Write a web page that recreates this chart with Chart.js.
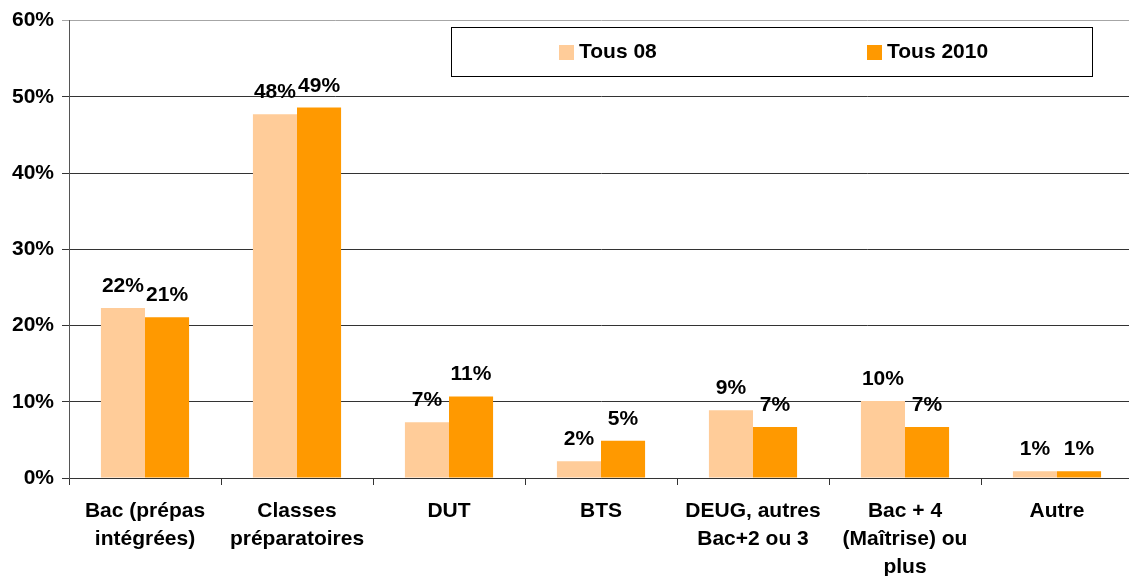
<!DOCTYPE html>
<html lang="fr">
<head>
<meta charset="utf-8">
<title>Tous 08 / Tous 2010</title>
<script src="https://cdn.jsdelivr.net/npm/chart.js@4.4.1/dist/chart.umd.min.js"></script>
<style>
    html, body { margin: 0; padding: 0; background: #fff; overflow: hidden; }
    #wrap { width: 1133px; height: 576px; }
</style>
</head>
<body>
<div id="wrap"><canvas id="chart"></canvas></div>
<script>
// Chart data
const categories = [
    ['Bac (prépas', 'intégrées)'],
    ['Classes', 'préparatoires'],
    'DUT',
    'BTS',
    ['DEUG, autres', 'Bac+2 ou 3'],
    ['Bac + 4', '(Maîtrise) ou', 'plus'],
    'Autre'
];
const seriesNames = ['Tous 08', 'Tous 2010'];
const tous08 = [22.3, 47.7, 7.3, 2.2, 8.9, 10.1, 0.9];
const tous2010 = [21.1, 48.6, 10.7, 4.9, 6.7, 6.7, 0.9];
const yTicks = [0, 10, 20, 30, 40, 50, 60];

const FONT_FAMILY = '"Liberation Sans", Arial, sans-serif';
const FONT = 'bold 21px ' + FONT_FAMILY;

/**
 * Percent labels above each bar
 */
const barLabels = {
    id: 'barLabels',
    afterDatasetsDraw(chart) {
        const ctx = chart.ctx;
        ctx.save();
        ctx.font = FONT;
        ctx.fillStyle = '#000';
        ctx.textAlign = 'center';
        ctx.textBaseline = 'alphabetic';
        chart.data.datasets.forEach((ds, i) => {
            chart.getDatasetMeta(i).data.forEach((bar, j) => {
                ctx.fillText(Math.round(ds.data[j]) + '%', bar.x, bar.y - 16);
            });
        });
        ctx.restore();
    }
};

/**
 * Boxed legend sitting inside the plot area
 */
const boxLegend = {
    id: 'boxLegend',
    afterDraw(chart) {
        const ctx = chart.ctx;
        const box = { x: 451.5, y: 27.5, w: 641, h: 49 };
        const itemX = [559, 867];
        ctx.save();
        ctx.fillStyle = '#fff';
        ctx.fillRect(box.x, box.y, box.w, box.h);
        ctx.strokeStyle = '#000';
        ctx.lineWidth = 1;
        ctx.strokeRect(box.x, box.y, box.w, box.h);
        ctx.font = FONT;
        ctx.textBaseline = 'middle';
        ctx.textAlign = 'left';
        chart.data.datasets.forEach((ds, i) => {
            ctx.fillStyle = ds.backgroundColor;
            ctx.fillRect(itemX[i], 45, 15, 15);
            ctx.fillStyle = '#000';
            ctx.fillText(ds.label, itemX[i] + 20, 52);
        });
        ctx.restore();
    }
};

const ctx = document.getElementById('chart').getContext('2d');
new Chart(ctx, {
    type: 'bar',
    data: {
        labels: categories,
        datasets: [
            {
                label: seriesNames[0],
                data: tous08,
                backgroundColor: '#FFCC99',
                categoryPercentage: 0.58,
                barPercentage: 1.0
            },
            {
                label: seriesNames[1],
                data: tous2010,
                backgroundColor: '#FF9900',
                categoryPercentage: 0.58,
                barPercentage: 1.0
            }
        ]
    },
    options: {
        responsive: true,
        maintainAspectRatio: false,
        animation: false,
        layout: {
            padding: { top: 20, right: 0, bottom: 0, left: 0 }
        },
        plugins: {
            legend: { display: false },
            tooltip: { enabled: false }
        },
        scales: {
            x: {
                grid: {
                    offset: true,
                    drawOnChartArea: false,
                    drawTicks: true,
                    tickLength: 7,
                    color: '#333'
                },
                border: { color: '#333', width: 1 },
                ticks: {
                    color: '#000',
                    padding: 12,
                    maxRotation: 0,
                    autoSkip: false,
                    font: { family: FONT_FAMILY, size: 21, weight: 'bold', lineHeight: 1.333 }
                },
                afterFit(scale) {
                    scale.height = 98;
                }
            },
            y: {
                min: 0,
                max: 60,
                afterBuildTicks(scale) {
                    scale.ticks = yTicks.map(v => ({ value: v }));
                },
                grid: {
                    color: c => (c.tick && c.tick.value === 60 ? '#a6a6a6' : '#333'),
                    tickLength: 7,
                    drawTicks: true
                },
                border: { color: '#555', width: 1 },
                ticks: {
                    color: '#000',
                    padding: 8,
                    font: { family: FONT_FAMILY, size: 21, weight: 'bold' },
                    callback: v => v + '%'
                },
                afterFit(scale) {
                    scale.width = 69;
                }
            }
        }
    },
    plugins: [barLabels, boxLegend]
});
</script>
</body>
</html>
